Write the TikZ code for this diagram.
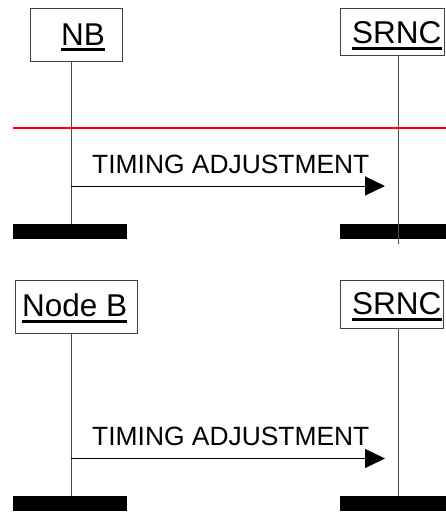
\documentclass[tikz,border=0pt]{standalone}
\usepackage{fontspec}
\setmainfont{Liberation Sans}
\usetikzlibrary{arrows.meta}
\definecolor{sepred}{RGB}{255,0,0}
\begin{document}
\begin{tikzpicture}[x=1pt,y=-1pt,
  lifebox/.style={draw=black!75, line width=1pt, inner sep=0pt, anchor=north west},
  hdr/.style={font=\fontsize{31.5}{36}\selectfont, inner sep=0pt, anchor=base west},
  msglabel/.style={font=\fontsize{26.4}{30}\selectfont, inner sep=0pt, anchor=base west},
  life/.style={draw=black!70, line width=1pt},
  bar/.style={fill=black, inner sep=0pt, anchor=north west, minimum height=15pt},
  msg/.style={draw=black, line width=1pt, -{Triangle[length=20pt,width=19pt]}},
  uline/.style={line width=2.6pt},
  sepline/.style={color=sepred, line width=2pt}]
\useasboundingbox (0,0) rectangle (446,522);
% ---------- top diagram ----------
\node[lifebox, minimum width=92pt, minimum height=53pt] (nbbox) at (30,8) {};
\node[lifebox, minimum width=104pt, minimum height=47pt] (srncbox) at (340,8) {};
\node[hdr] (nbt) at (61,45) {NB};
\node[hdr] (srnct) at (352,43) {SRNC};
\draw[uline] ([yshift=-4.3pt]nbt.base west) -- ([yshift=-4.3pt]nbt.base east);
\draw[uline] ([yshift=-5.5pt]srnct.base west) -- ([yshift=-5.5pt]srnct.base east);
\node[bar, minimum width=114pt] (nbbar) at (13,224) {};
\node[bar, minimum width=106pt] (srncbar) at (340,224) {};
\coordinate (nbtop) at (71,61);
\coordinate (srnctop) at (398,55);
\coordinate (srncend) at (398,244);
\draw[life] (nbtop) -- (nbtop |- nbbar.north);
\draw[life] (srnctop) -- (srncend);
\coordinate (redl) at (13,127.5);
\coordinate (redr) at (446,127.5);
\draw[sepline] (redl) -- (redr);
\coordinate (m1s) at (71,186);
\coordinate (m1e) at (385,186);
\draw[msg] (m1s) -- (m1e);
\node[msglabel] (m1t) at (92,173) {TIMING ADJUSTMENT};
% ---------- bottom diagram ----------
\node[lifebox, minimum width=122pt, minimum height=53pt] (nbbox2) at (15,280) {};
\node[lifebox, minimum width=103pt, minimum height=48pt] (srncbox2) at (340,280) {};
\node[hdr] (nbt2) at (22,316) {Node B};
\node[hdr] (srnct2) at (352,314) {SRNC};
\draw[uline] ([yshift=-5.5pt]nbt2.base west) -- ([yshift=-5.5pt]nbt2.base east);
\draw[uline] ([yshift=-5.5pt]srnct2.base west) -- ([yshift=-5.5pt]srnct2.base east);
\node[bar, minimum width=114pt] (nbbar2) at (13,496) {};
\node[bar, minimum width=106pt] (srncbar2) at (340,496) {};
\coordinate (nbtop2) at (71,333);
\coordinate (srnctop2) at (398,328);
\draw[life] (nbtop2) -- (nbtop2 |- nbbar2.north);
\draw[life] (srnctop2) -- (srnctop2 |- srncbar2.north);
\coordinate (m2s) at (71,458.5);
\coordinate (m2e) at (385,458.5);
\draw[msg] (m2s) -- (m2e);
\node[msglabel] (m2t) at (92,445) {TIMING ADJUSTMENT};
\end{tikzpicture}
\end{document}
